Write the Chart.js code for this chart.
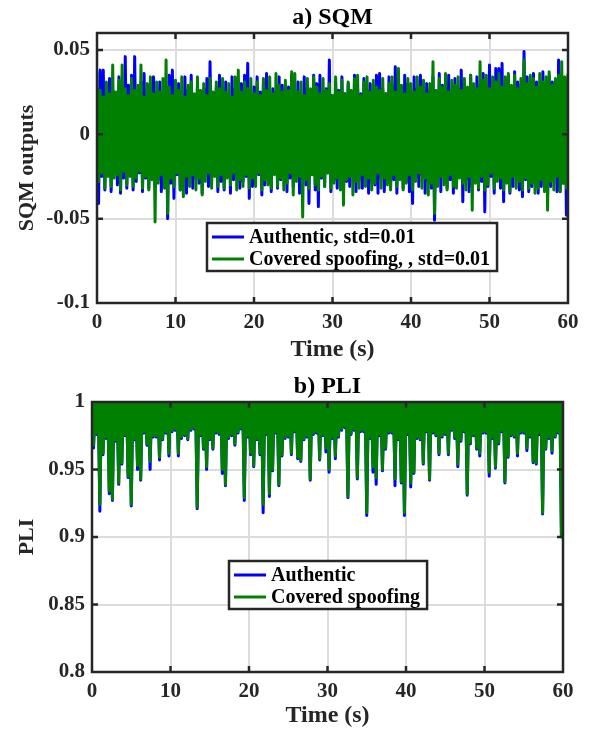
<!DOCTYPE html>
<html>
<head>
<meta charset="utf-8">
<script src="https://cdn.jsdelivr.net/npm/chart.js@4.4.1/dist/chart.umd.min.js"></script>
<style>
  body { margin: 0; background: #fff; }
  .panel { position: absolute; left: 0; }
</style>
</head>
<body>
<div class="panel" style="top:0"><canvas id="sqm" width="589" height="365"></canvas></div>
<div class="panel" style="top:365px"><canvas id="pli" width="589" height="366"></canvas></div>
<script>
// sample spacing (s): highs sit on even samples, lows on odd samples
const timeStep = 0.2;

// ── a) SQM outputs: local maxima / minima ───────────────────────────────────
const sqmAuthHigh = [
  0.027, 0.038, 0.038, 0.024, 0.033, 0.026, 0.023, 0.034, 0.025, 0.046,
  0.029, 0.035, 0.046, 0.024, 0.031, 0.036, 0.022, 0.028, 0.034, 0.025,
  0.031, 0.023, 0.027, 0.035, 0.038, 0.024, 0.030, 0.022, 0.034, 0.026,
  0.035, 0.023, 0.029, 0.025, 0.027, 0.033, 0.043, 0.024, 0.028, 0.035,
  0.025, 0.031, 0.022, 0.034, 0.027, 0.024, 0.030, 0.035, 0.042, 0.023,
  0.028, 0.034, 0.025, 0.030, 0.036, 0.023, 0.027, 0.025, 0.034, 0.029,
  0.023, 0.028, 0.035, 0.024, 0.031, 0.022, 0.034, 0.027, 0.025, 0.035,
  0.030, 0.035, 0.024, 0.027, 0.044, 0.023, 0.031, 0.026, 0.034, 0.024,
  0.030, 0.023, 0.035, 0.027, 0.024, 0.033, 0.026, 0.030, 0.023, 0.035,
  0.036, 0.027, 0.024, 0.034, 0.029, 0.040, 0.026, 0.023, 0.035, 0.030,
  0.025, 0.034, 0.027, 0.035, 0.023, 0.030, 0.026, 0.034, 0.024, 0.036,
  0.029, 0.026, 0.035, 0.024, 0.033, 0.027, 0.038, 0.030, 0.025, 0.035,
  0.027, 0.034, 0.029, 0.036, 0.026, 0.041, 0.031, 0.039, 0.039, 0.042,
  0.028, 0.035, 0.026, 0.037, 0.031, 0.029, 0.049, 0.034, 0.027, 0.036,
  0.031, 0.028, 0.037, 0.026, 0.035, 0.031, 0.028, 0.044, 0.034, 0.029,
  0.030
];
const sqmAuthLow = [
  -0.041, -0.025, -0.033, -0.024, -0.034, -0.023, -0.030, -0.035, -0.026, -0.032,
  -0.024, -0.033, -0.028, -0.023, -0.034, -0.026, -0.032, -0.024, -0.031, -0.027,
  -0.034, -0.025, -0.050, -0.029, -0.038, -0.024, -0.033, -0.027, -0.035, -0.023,
  -0.032, -0.026, -0.029, -0.035, -0.023, -0.031, -0.027, -0.024, -0.034, -0.028,
  -0.033, -0.024, -0.035, -0.027, -0.023, -0.032, -0.028, -0.025, -0.038, -0.031,
  -0.026, -0.024, -0.036, -0.030, -0.025, -0.034, -0.023, -0.032, -0.027, -0.024,
  -0.034, -0.026, -0.031, -0.023, -0.035, -0.027, -0.030, -0.041, -0.024, -0.033,
  -0.043, -0.026, -0.031, -0.023, -0.034, -0.027, -0.032, -0.024, -0.035, -0.028,
  -0.031, -0.024, -0.034, -0.027, -0.032, -0.023, -0.035, -0.028, -0.030, -0.035,
  -0.026, -0.034, -0.024, -0.031, -0.027, -0.035, -0.023, -0.032, -0.028, -0.034,
  -0.041, -0.026, -0.031, -0.024, -0.035, -0.028, -0.032, -0.051, -0.025, -0.034,
  -0.024, -0.032, -0.027, -0.035, -0.030, -0.023, -0.040, -0.027, -0.034, -0.031,
  -0.024, -0.033, -0.028, -0.046, -0.031, -0.025, -0.035, -0.024, -0.032, -0.040,
  -0.026, -0.035, -0.031, -0.023, -0.033, -0.037, -0.027, -0.034, -0.031, -0.025,
  -0.035, -0.031, -0.026, -0.036, -0.031, -0.024, -0.034, -0.034, -0.029, -0.048
];
const sqmSpoofHigh = [
  0.037, 0.026, 0.022, 0.031, 0.024, 0.041, 0.025, 0.032, 0.041, 0.027,
  0.023, 0.033, 0.026, 0.029, 0.041, 0.022, 0.030, 0.034, 0.024, 0.031,
  0.025, 0.033, 0.044, 0.028, 0.023, 0.032, 0.026, 0.034, 0.022, 0.029,
  0.031, 0.024, 0.034, 0.026, 0.030, 0.023, 0.033, 0.025, 0.031, 0.027,
  0.033, 0.025, 0.030, 0.022, 0.034, 0.038, 0.025, 0.031, 0.027, 0.033,
  0.024, 0.031, 0.023, 0.033, 0.026, 0.034, 0.024, 0.036, 0.029, 0.025,
  0.032, 0.026, 0.037, 0.036, 0.025, 0.031, 0.023, 0.033, 0.027, 0.034,
  0.028, 0.024, 0.033, 0.026, 0.030, 0.023, 0.034, 0.025, 0.032, 0.024,
  0.031, 0.026, 0.033, 0.035, 0.023, 0.031, 0.034, 0.025, 0.032, 0.028,
  0.026, 0.033, 0.024, 0.030, 0.034, 0.025, 0.039, 0.029, 0.024, 0.033,
  0.030, 0.025, 0.034, 0.028, 0.032, 0.024, 0.030, 0.043, 0.026, 0.033,
  0.028, 0.036, 0.025, 0.032, 0.029, 0.034, 0.026, 0.033, 0.028, 0.035,
  0.030, 0.027, 0.043, 0.032, 0.035, 0.027, 0.034, 0.031, 0.036, 0.028,
  0.034, 0.036, 0.029, 0.035, 0.027, 0.033, 0.044, 0.030, 0.035, 0.033,
  0.028, 0.036, 0.031, 0.034, 0.037, 0.029, 0.033, 0.035, 0.043, 0.034,
  0.036
];
const sqmSpoofLow = [
  -0.028, -0.023, -0.032, -0.025, -0.031, -0.026, -0.024, -0.033, -0.022, -0.030,
  -0.025, -0.031, -0.026, -0.022, -0.032, -0.025, -0.033, -0.027, -0.052, -0.029,
  -0.024, -0.032, -0.047, -0.026, -0.031, -0.023, -0.033, -0.037, -0.025, -0.031,
  -0.024, -0.033, -0.026, -0.036, -0.028, -0.023, -0.032, -0.025, -0.031, -0.024,
  -0.032, -0.026, -0.030, -0.023, -0.033, -0.027, -0.031, -0.024, -0.032, -0.026,
  -0.031, -0.023, -0.033, -0.027, -0.030, -0.032, -0.024, -0.031, -0.026, -0.033,
  -0.029, -0.023, -0.036, -0.028, -0.025, -0.049, -0.027, -0.032, -0.024, -0.030,
  -0.033, -0.025, -0.031, -0.023, -0.032, -0.029, -0.026, -0.033, -0.042, -0.027,
  -0.025, -0.036, -0.028, -0.032, -0.024, -0.031, -0.026, -0.033, -0.029, -0.023,
  -0.032, -0.026, -0.030, -0.033, -0.024, -0.031, -0.027, -0.033, -0.029, -0.024,
  -0.033, -0.028, -0.023, -0.032, -0.026, -0.036, -0.029, -0.047, -0.031, -0.025,
  -0.030, -0.033, -0.024, -0.031, -0.032, -0.026, -0.029, -0.033, -0.025, -0.045,
  -0.029, -0.032, -0.025, -0.033, -0.030, -0.023, -0.032, -0.028, -0.026, -0.033,
  -0.029, -0.034, -0.025, -0.032, -0.028, -0.033, -0.026, -0.032, -0.029, -0.035,
  -0.032, -0.027, -0.034, -0.045, -0.028, -0.033, -0.025, -0.034, -0.029, -0.032
];

// ── b) PLI: the signal is capped at 1, dips ─────────────────────────────────
const pliPeaks = [
  1, 1, 1, 1, 1, 1, 1, 1, 1, 1,   1, 1, 1, 1, 1, 1, 1, 1, 1, 1,
  1, 1, 1, 1, 1, 1, 1, 1, 1, 1,   1, 1, 1, 1, 1, 1, 1, 1, 1, 1,
  1, 1, 1, 1, 1, 1, 1, 1, 1, 1,   1, 1, 1, 1, 1, 1, 1, 1, 1, 1,
  1, 1, 1, 1, 1, 1, 1, 1, 1, 1,   1, 1, 1, 1, 1, 1, 1, 1, 1, 1,
  1, 1, 1, 1, 1, 1, 1, 1, 1, 1,   1, 1, 1, 1, 1, 1, 1, 1, 1, 1,
  1, 1, 1, 1, 1, 1, 1, 1, 1, 1,   1, 1, 1, 1, 1, 1, 1, 1, 1, 1,
  1, 1, 1, 1, 1, 1, 1, 1, 1, 1,   1, 1, 1, 1, 1, 1, 1, 1, 1, 1,
  1, 1, 1, 1, 1, 1, 1, 1, 1, 1,   1
];
const pliAuthLow = [
  0.966, 0.976, 0.919, 0.961, 0.973, 0.932, 0.927, 0.971, 0.939, 0.954,
  0.975, 0.944, 0.923, 0.972, 0.950, 0.942, 0.977, 0.968, 0.950, 0.974,
  0.974, 0.957, 0.972, 0.977, 0.960, 0.978, 0.979, 0.960, 0.973, 0.975,
  0.972, 0.979, 0.980, 0.921, 0.975, 0.965, 0.950, 0.972, 0.965, 0.977,
  0.976, 0.947, 0.938, 0.973, 0.975, 0.968, 0.977, 0.980, 0.927, 0.974,
  0.961, 0.952, 0.972, 0.961, 0.918, 0.976, 0.930, 0.949, 0.977, 0.938,
  0.960, 0.973, 0.974, 0.961, 0.978, 0.958, 0.956, 0.972, 0.974, 0.942,
  0.976, 0.977, 0.957, 0.975, 0.963, 0.948, 0.973, 0.958, 0.974, 0.979,
  0.981, 0.929, 0.976, 0.979, 0.943, 0.978, 0.978, 0.916, 0.973, 0.948,
  0.939, 0.975, 0.949, 0.965, 0.977, 0.977, 0.938, 0.972, 0.940, 0.916,
  0.976, 0.937, 0.947, 0.973, 0.972, 0.954, 0.978, 0.942, 0.977, 0.975,
  0.961, 0.974, 0.976, 0.961, 0.979, 0.973, 0.952, 0.971, 0.978, 0.931,
  0.969, 0.975, 0.965, 0.960, 0.977, 0.977, 0.945, 0.973, 0.951, 0.969,
  0.978, 0.940, 0.959, 0.975, 0.974, 0.960, 0.977, 0.977, 0.964, 0.974,
  0.955, 0.954, 0.976, 0.917, 0.965, 0.973, 0.962, 0.974, 0.977, 0.900
];
const pliSpoofLow = [
  0.968, 0.977, 0.924, 0.962, 0.974, 0.934, 0.928, 0.972, 0.940, 0.955,
  0.976, 0.945, 0.924, 0.973, 0.953, 0.943, 0.978, 0.969, 0.956, 0.975,
  0.975, 0.959, 0.973, 0.978, 0.962, 0.979, 0.980, 0.962, 0.974, 0.976,
  0.973, 0.980, 0.981, 0.922, 0.976, 0.966, 0.952, 0.973, 0.966, 0.978,
  0.977, 0.950, 0.939, 0.974, 0.976, 0.969, 0.978, 0.981, 0.929, 0.975,
  0.962, 0.953, 0.973, 0.962, 0.924, 0.977, 0.932, 0.950, 0.978, 0.939,
  0.961, 0.974, 0.975, 0.962, 0.979, 0.959, 0.957, 0.973, 0.975, 0.943,
  0.977, 0.978, 0.958, 0.976, 0.966, 0.950, 0.974, 0.960, 0.975, 0.980,
  0.982, 0.930, 0.977, 0.980, 0.944, 0.979, 0.979, 0.918, 0.974, 0.952,
  0.944, 0.976, 0.950, 0.966, 0.978, 0.978, 0.943, 0.973, 0.941, 0.918,
  0.977, 0.940, 0.948, 0.974, 0.973, 0.955, 0.979, 0.943, 0.978, 0.976,
  0.962, 0.975, 0.977, 0.962, 0.980, 0.974, 0.954, 0.972, 0.979, 0.932,
  0.970, 0.976, 0.966, 0.962, 0.978, 0.978, 0.948, 0.974, 0.952, 0.970,
  0.979, 0.941, 0.960, 0.976, 0.975, 0.962, 0.978, 0.978, 0.966, 0.975,
  0.956, 0.955, 0.977, 0.918, 0.966, 0.974, 0.964, 0.975, 0.978, 0.901
];

const xTicksTime = [0, 10, 20, 30, 40, 50, 60];
const BLUE = '#0000ff';
const GREEN = '#008000';
const INK = '#262626';
const SERIF = '"Liberation Serif", "Times New Roman", serif';

// interleave highs and lows into one trace
function zigzag(highs, lows) {
  let pts = [];
  for (let k = 0; k < highs.length; k++) {
    pts.push({ x: +(2 * k * timeStep).toFixed(2), y: highs[k] });
    if (k < lows.length) pts.push({ x: +((2 * k + 1) * timeStep).toFixed(2), y: lows[k] });
  }
  return pts;
}

// MATLAB-like box, inward ticks, title and in-axes legend
const matlabAxes = {
  id: 'matlabAxes',
  afterDraw(chart, args, opts) {
    const ctx = chart.ctx, a = chart.chartArea;
    const sx = chart.scales.x, sy = chart.scales.y;
    ctx.save();

    ctx.fillStyle = '#000';
    ctx.font = 'bold 24px ' + SERIF;
    ctx.textAlign = 'center';
    ctx.textBaseline = 'middle';
    ctx.fillText(opts.title, (a.left + a.right) / 2, a.top - 15);

    ctx.strokeStyle = INK;
    ctx.lineWidth = 2.5;
    ctx.strokeRect(a.left, a.top, a.right - a.left, a.bottom - a.top);

    const len = 6;
    ctx.beginPath();
    sx.ticks.forEach(t => {
      const px = sx.getPixelForValue(t.value);
      if (px <= a.left + 2 || px >= a.right - 2) return;
      ctx.moveTo(px, a.bottom); ctx.lineTo(px, a.bottom - len);
      ctx.moveTo(px, a.top); ctx.lineTo(px, a.top + len);
    });
    sy.ticks.forEach(t => {
      const py = sy.getPixelForValue(t.value);
      if (py <= a.top + 2 || py >= a.bottom - 2) return;
      ctx.moveTo(a.left, py); ctx.lineTo(a.left + len, py);
      ctx.moveTo(a.right, py); ctx.lineTo(a.right - len, py);
    });
    ctx.stroke();

    // legend
    const ds = chart.data.datasets;
    ctx.font = 'bold 20px ' + SERIF;
    ctx.textAlign = 'left';
    let w = 0;
    ds.forEach(d => { w = Math.max(w, ctx.measureText(d.label).width); });
    const L = a.left + opts.legendX, T = a.top + opts.legendY;
    const boxW = 42 + w + 7, boxH = 48;
    ctx.fillStyle = '#fff';
    ctx.fillRect(L, T, boxW, boxH);
    ctx.lineWidth = 2.5;
    ctx.strokeStyle = INK;
    ctx.strokeRect(L, T, boxW, boxH);
    ds.forEach((d, i) => {
      const y = T + 14 + i * 22;
      ctx.strokeStyle = d.borderColor;
      ctx.lineWidth = 3;
      ctx.beginPath();
      ctx.moveTo(L + 5, y); ctx.lineTo(L + 37, y);
      ctx.stroke();
      ctx.fillStyle = '#000';
      ctx.fillText(d.label, L + 42, y + 1);
    });
    ctx.restore();
  }
};

function fmt(v) { return String(Math.round(v * 100) / 100); }

function makeChart(id, o) {
  return new Chart(document.getElementById(id), {
    type: 'line',
    data: {
      datasets: [
        { label: o.labels[0], data: zigzag(o.authHigh, o.authLow), borderColor: BLUE,
          borderWidth: 3, pointRadius: 0, order: 1, borderJoinStyle: 'round' },
        { label: o.labels[1], data: zigzag(o.spoofHigh, o.spoofLow), borderColor: GREEN,
          borderWidth: 3, pointRadius: 0, order: 0, borderJoinStyle: 'round' }
      ]
    },
    options: {
      responsive: false,
      animation: false,
      layout: { padding: { top: o.padTop, right: o.padRight, left: 0, bottom: 0 } },
      scales: {
        x: {
          type: 'linear', min: 0, max: 60,
          afterBuildTicks: s => { s.ticks = xTicksTime.map(v => ({ value: v })); },
          afterFit: s => { s.height = o.xHeight; },
          grid: { color: '#dcdcdc', lineWidth: 2, drawTicks: false },
          border: { display: false },
          ticks: { padding: 7, color: INK, font: { family: SERIF, size: 21, weight: 'bold' } },
          title: { display: true, text: 'Time (s)', color: INK, padding: { top: 0, bottom: 1 },
                   font: { family: SERIF, size: 24, weight: 'bold' } }
        },
        y: {
          min: o.yMin, max: o.yMax,
          afterBuildTicks: s => { s.ticks = o.yTicks.map(v => ({ value: v })); },
          afterFit: s => { s.width = o.yWidth; },
          grid: { color: '#dcdcdc', lineWidth: 2, drawTicks: false },
          border: { display: false },
          ticks: { padding: 7, color: INK, callback: fmt,
                   font: { family: SERIF, size: 21, weight: 'bold' } },
          title: { display: true, text: o.yTitle, color: INK, padding: { top: 14, bottom: 0 },
                   font: { family: SERIF, size: 22, weight: 'bold' } }
        }
      },
      plugins: {
        legend: { display: false },
        tooltip: { enabled: false },
        matlabAxes: { title: o.title, legendX: o.legendX, legendY: o.legendY }
      }
    },
    plugins: [matlabAxes]
  });
}

makeChart('sqm', {
  title: 'a) SQM', yTitle: 'SQM outputs',
  labels: ['Authentic, std=0.01', 'Covered spoofing, , std=0.01'],
  authHigh: sqmAuthHigh, authLow: sqmAuthLow, spoofHigh: sqmSpoofHigh, spoofLow: sqmSpoofLow,
  yMin: -0.1, yMax: 0.06, yTicks: [-0.1, -0.05, 0, 0.05],
  padTop: 33, padRight: 21, yWidth: 97, xHeight: 62, legendX: 110, legendY: 190
});

makeChart('pli', {
  title: 'b) PLI', yTitle: 'PLI',
  labels: ['Authentic', 'Covered spoofing'],
  authHigh: pliPeaks, authLow: pliAuthLow, spoofHigh: pliPeaks, spoofLow: pliSpoofLow,
  yMin: 0.8, yMax: 1, yTicks: [0.8, 0.85, 0.9, 0.95, 1],
  padTop: 37, padRight: 26, yWidth: 92, xHeight: 59, legendX: 137, legendY: 159
});
</script>
</body>
</html>
